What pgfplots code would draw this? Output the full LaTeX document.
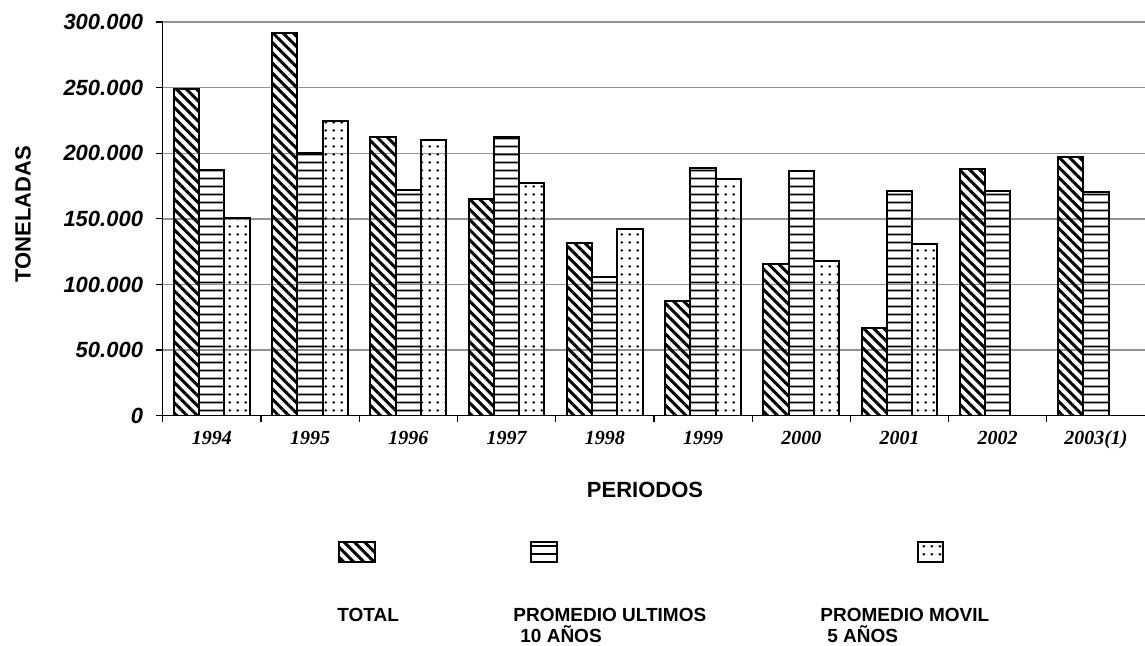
\documentclass[border=0pt]{standalone}
\usepackage{pgfplots}
\pgfplotsset{compat=1.18}
\usepackage{fontspec}
\setmainfont{Liberation Sans}
\newfontfamily\timesf{Liberation Serif}
\usetikzlibrary{patterns,patterns.meta}
\pgfdeclarepatternformonly{hbands}{\pgfpoint{0pt}{0pt}}{\pgfpoint{24pt}{4pt}}{\pgfpoint{24pt}{4pt}}{%
  \pgfpathrectangle{\pgfpoint{-0.5pt}{1.5pt}}{\pgfpoint{25pt}{1pt}}\pgfusepath{fill}}
\pgfdeclarepatternformonly{dotgrid}{\pgfpoint{0pt}{0pt}}{\pgfpoint{3.9pt}{4pt}}{\pgfpoint{3.9pt}{4pt}}{%
  \pgfpathcircle{\pgfpoint{1.95pt}{2pt}}{0.75pt}\pgfusepath{fill}}
\tikzset{
  pTotal/.style={pattern={Lines[angle=-45,distance=3.6pt,line width=1.5pt]}},
  pDiez/.style={pattern=hbands},
  pCinco/.style={pattern=dotgrid},
}
\begin{document}
\begin{tikzpicture}
\begin{axis}[
  at={(0,0)}, anchor=south west,
  scale only axis, width=491.2pt, height=196.85pt,
  xmin=-0.5, xmax=9.5, ymin=0, ymax=300000,
  enlargelimits=false,
  scaled y ticks=false,
  ybar=0pt, bar width=12.65pt,
  separate axis lines,
  axis x line=bottom, axis y line=left,
  axis line style={-, black, line width=0.7pt},
  tick align=outside,
  xtick={0,...,9},
  xticklabels={1994,1995,1996,1997,1998,1999,2000,2001,2002,2003(1)},
  major x tick style={draw=none},
  minor xtick={-0.5,0.5,...,9.5},
  minor tick length=3pt,
  minor x tick style={draw=black, line width=0.6pt},
  xticklabel style={font=\timesf\fontsize{10}{12}\selectfont\bfseries\itshape, anchor=base, yshift=-10.9pt},
  ytick={0,50000,100000,150000,200000,250000,300000},
  yticklabels={0,50.000,100.000,150.000,200.000,250.000,300.000},
  major tick length=3.3pt,
  ytick style={black, line width=0.6pt},
  yticklabel style={font=\fontsize{11}{13}\selectfont\bfseries\itshape, anchor=east, xshift=-3pt},
  ymajorgrids,
  major grid style={gray!85, line width=0.7pt},
  extra y ticks={300000},
  extra y tick labels={},
  extra y tick style={grid style={black, line width=0.7pt}},
  every axis plot/.append style={draw=black, line width=1pt},
]
\addplot[pTotal] coordinates {(0,249200) (1,291700) (2,212400) (3,165400) (4,131600) (5,87400) (6,115900) (7,66800) (8,188000) (9,197000)};
\addplot[pDiez] coordinates {(0,187000) (1,200300) (2,172000) (3,212400) (4,105500) (5,188800) (6,186700) (7,171500) (8,171300) (9,170500)};
\addplot[pCinco] coordinates {(0,150700) (1,224600) (2,210100) (3,177600) (4,142300) (5,180600) (6,117900) (7,131100)};
\end{axis}
% axis titles
\node[rotate=90, font=\fontsize{11}{13}\selectfont\bfseries] at (-69.85pt,100.85pt) {TONELADAS};
\node[font=\fontsize{11}{13}\selectfont\bfseries] at (241.15pt,-37.15pt) {PERIODOS};
% legend
\draw[pTotal, line width=0.6pt] (88.15pt,-73.15pt) rectangle (106.15pt,-63.15pt);
\draw[pDiez, line width=0.6pt] (184.15pt,-73.15pt) rectangle (197.15pt,-63.15pt);
\draw[pCinco, line width=0.6pt] (377.65pt,-73.15pt) rectangle (390.15pt,-63.15pt);
\begin{scope}[every node/.style={font=\fontsize{9.5}{11}\selectfont\bfseries, inner sep=0pt, anchor=base west}]
\node at (87.15pt,-103.15pt) {TOTAL};
\node at (175.15pt,-103.15pt) {PROMEDIO ULTIMOS};
\node at (178.65pt,-113.65pt) {10 AÑOS};
\node at (328.65pt,-103.15pt) {PROMEDIO MOVIL};
\node at (332.15pt,-113.65pt) {5 AÑOS};
\end{scope}
\pgfresetboundingbox
\path (-81.35pt,-115.15pt) rectangle (491.15pt,207.85pt);
\end{tikzpicture}
\end{document}
